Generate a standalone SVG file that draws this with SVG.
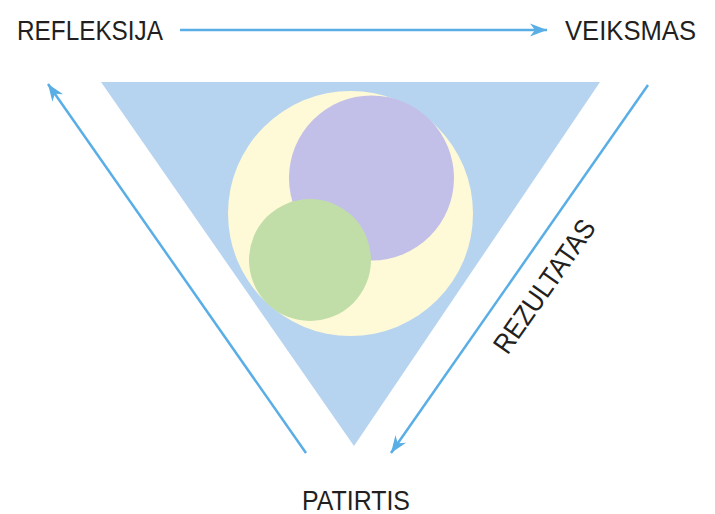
<svg xmlns="http://www.w3.org/2000/svg" width="715" height="514" viewBox="0 0 715 514">
  <style>
    .label { font-family: "Liberation Sans", Arial, sans-serif; font-size: 28px; fill: #231f20; }
    .conn { stroke: #5aaee6; stroke-width: 2.5; fill: none; marker-end: url(#head); }
  </style>
  <defs>
    <marker id="head" markerUnits="userSpaceOnUse" markerWidth="24" markerHeight="16" viewBox="-17 -8 18 16" refX="0" refY="0" orient="auto">
      <path d="M0,0 L-17,-6.5 L-12,0 L-17,6.5 Z" fill="#5aaee6"/>
    </marker>
  </defs>

  <rect width="715" height="514" fill="#ffffff"/>

  <!-- central triangle with nested circles -->
  <g id="core">
    <polygon points="101,82 600,82 354,446" fill="#b6d4f0"/>
    <circle cx="350.5" cy="213.5" r="122.5" fill="#fef9d6"/>
    <circle cx="371.5" cy="178" r="82.5" fill="#c2bfe8"/>
    <circle cx="310" cy="260" r="61" fill="#c1dea8"/>
  </g>

  <g id="connectors">
    <line class="conn" x1="180" y1="30" x2="547" y2="30"/>
    <line class="conn" x1="648" y1="85" x2="391" y2="453"/>
    <line class="conn" x1="306" y1="453" x2="48" y2="84"/>
  </g>

  <g id="refleksija">
    <text class="label" x="17" y="39.5" textLength="146" lengthAdjust="spacingAndGlyphs">REFLEKSIJA</text>
  </g>
  <g id="veiksmas">
    <text class="label" x="565" y="39.5" textLength="131" lengthAdjust="spacingAndGlyphs">VEIKSMAS</text>
  </g>
  <g id="patirtis">
    <text class="label" x="302" y="509.5" textLength="108" lengthAdjust="spacingAndGlyphs">PATIRTIS</text>
  </g>
  <g id="rezultatas">
    <text class="label" transform="translate(544,286) rotate(-55)" x="0" y="10" text-anchor="middle" textLength="156" lengthAdjust="spacingAndGlyphs">REZULTATAS</text>
  </g>
</svg>
